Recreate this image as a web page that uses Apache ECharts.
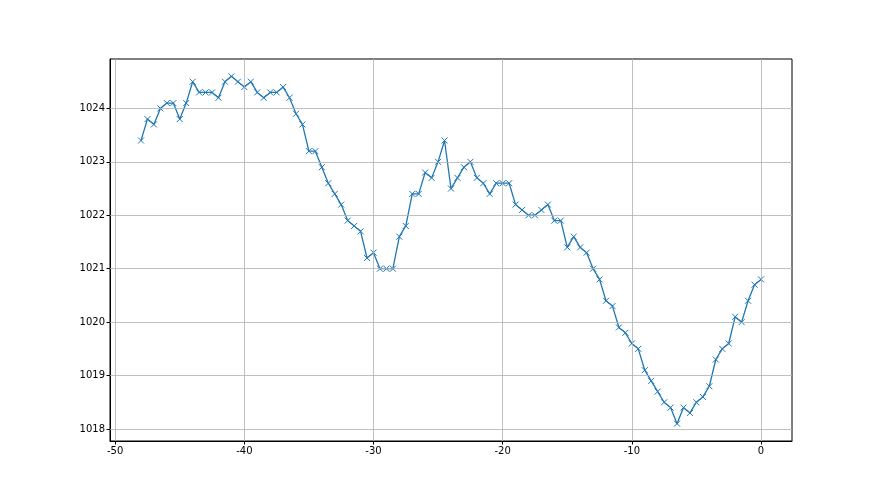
<!DOCTYPE html>
<html>
<head>
<meta charset="utf-8">
<script src="https://cdn.jsdelivr.net/npm/echarts@6/dist/echarts.min.js"></script>
<style>html,body{margin:0;padding:0;background:#fff}#c{width:880px;height:495px}</style>
</head>
<body>
<div id="c"></div>
<script>
const xTicks = [-50, -40, -30, -20, -10, 0];
const yTicks = [1018, 1019, 1020, 1021, 1022, 1023, 1024];
const xValues = [];
for (let i = 0; i < 97; i++) xValues.push(-48 + i * 0.5);
const pressure = [
  1023.4, 1023.8, 1023.7, 1024.0, 1024.1, 1024.1, 1023.8, 1024.1, 1024.5, 1024.3,
  1024.3, 1024.3, 1024.2, 1024.5, 1024.6, 1024.5, 1024.4, 1024.5, 1024.3, 1024.2,
  1024.3, 1024.3, 1024.4, 1024.2, 1023.9, 1023.7, 1023.2, 1023.2, 1022.9, 1022.6,
  1022.4, 1022.2, 1021.9, 1021.8, 1021.7, 1021.2, 1021.3, 1021.0, 1021.0, 1021.0,
  1021.6, 1021.8, 1022.4, 1022.4, 1022.8, 1022.7, 1023.0, 1023.4, 1022.5, 1022.7,
  1022.9, 1023.0, 1022.7, 1022.6, 1022.4, 1022.6, 1022.6, 1022.6, 1022.2, 1022.1,
  1022.0, 1022.0, 1022.1, 1022.2, 1021.9, 1021.9, 1021.4, 1021.6, 1021.4, 1021.3,
  1021.0, 1020.8, 1020.4, 1020.3, 1019.9, 1019.8, 1019.6, 1019.5, 1019.1, 1018.9,
  1018.7, 1018.5, 1018.4, 1018.1, 1018.4, 1018.3, 1018.5, 1018.6, 1018.8, 1019.3,
  1019.5, 1019.6, 1020.1, 1020.0, 1020.4, 1020.7, 1020.8
];
const data = xValues.map((x, i) => [x, pressure[i]]);
const ymin = Math.min(...pressure), ymax = Math.max(...pressure);
const xmin = Math.min(...xValues), xmax = Math.max(...xValues);
const ym = (ymax - ymin) * 0.05, xm = (xmax - xmin) * 0.05;

const chart = echarts.init(document.getElementById('c'), null, {renderer: 'canvas'});
const axisFont = {fontFamily: 'DejaVu Sans', fontSize: 10, color: '#000'};
chart.setOption({
  animation: false,
  backgroundColor: '#fff',
  grid: {left: 110, right: 88, top: 59, bottom: 54, show: true, borderColor: '#000', borderWidth: 1, backgroundColor: 'transparent'},
  xAxis: {
    type: 'value', min: xmin - xm, max: xmax + xm,
    axisLine: {show: true, onZero: false, lineStyle: {color: '#000', width: 1}},
    axisTick: {show: true, length: 3.5, lineStyle: {color: '#000'}, customValues: xTicks},
    axisLabel: {show: true, customValues: xTicks, margin: 5, formatter: v => String(Math.round(v)), ...axisFont},
    splitLine: {show: false}
  },
  yAxis: {
    type: 'value', min: ymin - ym, max: ymax + ym,
    axisLine: {show: true, onZero: false, lineStyle: {color: '#000', width: 1}},
    axisTick: {show: true, length: 3.5, lineStyle: {color: '#000'}, customValues: yTicks},
    axisLabel: {show: true, customValues: yTicks, margin: 5, formatter: v => String(Math.round(v)), ...axisFont},
    splitLine: {show: false}
  },
  series: [{
    type: 'line',
    data: data,
    symbol: 'path://M0,0L10,10M10,0L0,10',
    symbolSize: 6,
    showAllSymbol: true,
    lineStyle: {color: '#1f77b4', width: 1.3},
    itemStyle: {color: '#1f77b4', borderColor: '#1f77b4', borderWidth: 1},
    z: 3,
    markLine: {
      silent: true, symbol: 'none', label: {show: false}, animation: false,
      lineStyle: {color: '#b0b0b0', width: 0.8, type: 'solid'},
      data: xTicks.map(v => ({xAxis: v})).concat(yTicks.map(v => ({yAxis: v})))
    }
  }]
});
</script>
</body>
</html>
